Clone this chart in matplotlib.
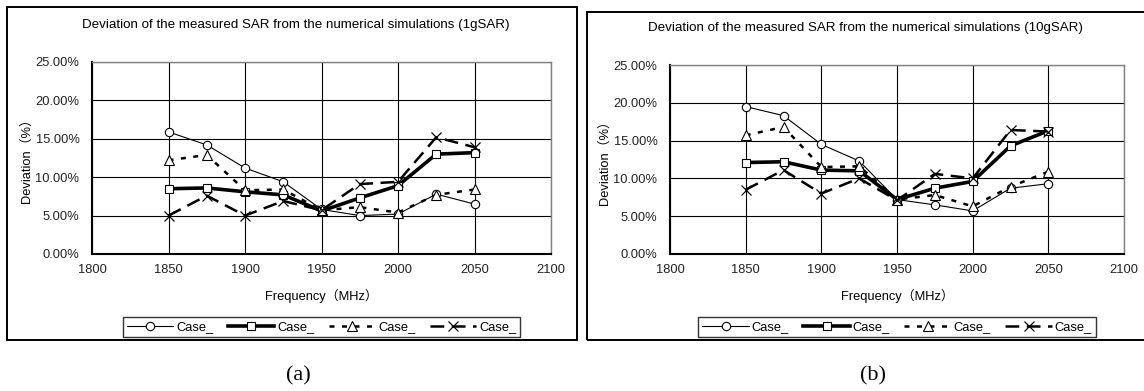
import matplotlib
matplotlib.use("Agg")
import matplotlib.pyplot as plt
from matplotlib.patches import Rectangle
from matplotlib.ticker import FuncFormatter

plt.rcParams["font.family"] = ["Liberation Sans", "Noto Sans CJK JP", "DejaVu Sans"]

W, H = 1144, 391

freq = [1850, 1875, 1900, 1925, 1950, 1975, 2000, 2025, 2050]

# 1g SAR deviation (%)
sar1_circle = [15.9, 14.2, 11.2, 9.4, 5.8, 5.0, 5.2, 7.8, 6.5]
sar1_square = [8.5, 8.6, 8.1, 7.7, 5.6, 7.3, 8.9, 13.0, 13.2]
sar1_triangle = [12.2, 12.9, 8.3, 8.4, 5.7, 6.1, 5.4, 7.7, 8.4]
sar1_cross = [5.0, 7.6, 5.0, 6.9, 5.7, 9.1, 9.4, 15.2, 13.9]

# 10g SAR deviation (%)
sar10_circle = [19.5, 18.3, 14.5, 12.3, 7.2, 6.5, 5.7, 8.7, 9.3]
sar10_square = [12.1, 12.2, 11.1, 11.0, 7.2, 8.7, 9.6, 14.3, 16.3]
sar10_triangle = [15.7, 16.8, 11.5, 11.6, 7.2, 7.8, 6.3, 8.9, 10.9]
sar10_cross = [8.5, 11.1, 8.0, 10.0, 7.1, 10.6, 10.0, 16.4, 16.2]

legend_labels = ["Case_", "Case_", "Case_", "Case_"]
titles = [
    "Deviation of the measured SAR from the numerical simulations (1gSAR)",
    "Deviation of the measured SAR from the numerical simulations (10gSAR)",
]
panel_tags = ["(a)", "(b)"]

STYLES = [
    dict(color="black", lw=0.8, ls="-", marker="o", ms=6, mfc="white", mec="black", mew=0.8),
    dict(color="black", lw=2.6, ls="-", marker="s", ms=6, mfc="white", mec="black", mew=0.8),
    dict(color="black", lw=1.8, ls=(0, (2, 3)), marker="^", ms=6.5, mfc="white", mec="black", mew=0.8),
    dict(color="black", lw=1.8, ls=(0, (5.5, 3)), marker="x", ms=7.5, mec="black", mew=0.9),
]


def fx(px):
    return px / W


def fy(py):
    return 1 - py / H


fig = plt.figure(figsize=(W / 100, H / 100), dpi=100)

# panel frames
for x0, y0, x1, y1 in [(7, 7, 577, 340), (587, 12, 1150, 340)]:
    fig.patches.append(Rectangle((fx(x0), fy(y1)), fx(x1 - x0), (y1 - y0) / H,
                                 transform=fig.transFigure, fill=False,
                                 edgecolor="black", lw=1.4))

panels = [
    dict(ax=(92, 62, 551, 254), series=[sar1_circle, sar1_square, sar1_triangle, sar1_cross],
         title_xy=(296, 25), ylab_x=27, tag_x=298),
    dict(ax=(670, 65, 1124, 254), series=[sar10_circle, sar10_square, sar10_triangle, sar10_cross],
         title_xy=(866, 28), ylab_x=605, tag_x=873),
]

for i, p in enumerate(panels):
    x0, y0, x1, y1 = p["ax"]
    ax = fig.add_axes([fx(x0), fy(y1), fx(x1 - x0), (y1 - y0) / H])
    handles = []
    for vals, st in zip(p["series"], STYLES):
        h, = ax.plot(freq, vals, **st)
        handles.append(h)

    ax.set_xlim(1800, 2100)
    ax.set_ylim(0, 25)
    ax.set_xticks(range(1800, 2101, 50))
    ax.set_yticks(range(0, 26, 5))
    ax.yaxis.set_major_formatter(FuncFormatter(lambda v, _: f"{v:.2f}%"))
    ax.tick_params(length=0, labelsize=9.3, colors="#222222")
    ax.tick_params(axis="y", pad=9)
    ax.tick_params(axis="x", pad=7)
    ax.grid(True, color="black", lw=0.8)
    ax.set_axisbelow(True)
    for side in ["left", "bottom"]:
        ax.spines[side].set_linewidth(1.5)
        ax.spines[side].set_color("black")
    for side in ["top", "right"]:
        ax.spines[side].set_linewidth(1.0)
        ax.spines[side].set_color("#808080")

    cx = (x0 + x1) / 2
    fig.text(fx(cx), fy(296), "Frequency\uff08MHz\uff09", ha="center", va="center", fontsize=9.3)
    fig.text(fx(p["ylab_x"]), fy((y0 + y1) / 2), "Deviation\uff08%\uff09", ha="center", va="center",
             rotation=90, fontsize=9.3)
    fig.text(fx(p["title_xy"][0]), fy(p["title_xy"][1]), titles[i], ha="center", va="center",
             fontsize=9.6)
    fig.text(fx(p["tag_x"]), fy(376), panel_tags[i], ha="center", va="center",
             fontsize=16, family="Liberation Serif")

    leg = fig.legend(handles, legend_labels, loc="center", ncol=4,
                     bbox_to_anchor=(fx(cx), fy(327)), bbox_transform=fig.transFigure,
                     frameon=True, fancybox=False, fontsize=9.3, handlelength=3.6,
                     handletextpad=0.2, columnspacing=1.15, borderpad=0.3)
    leg.get_frame().set_edgecolor("black")
    leg.get_frame().set_linewidth(1.0)

fig.savefig("out.png", dpi=100)
